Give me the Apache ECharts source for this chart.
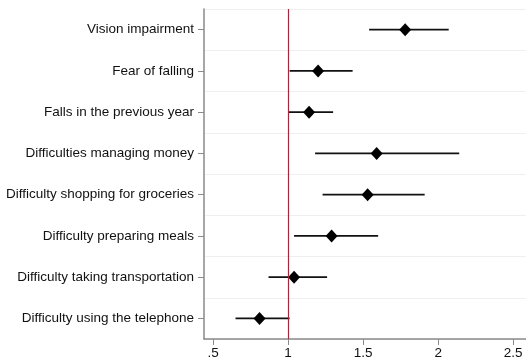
<!DOCTYPE html>
<html><head><meta charset="utf-8">
<script src="https://cdn.jsdelivr.net/npm/echarts@6/dist/echarts.min.js"></script>
<style>html,body{margin:0;padding:0;background:#fff}#c{width:526px;height:364px}</style>
</head><body><div id="c"></div>
<script>
const categories = ["Vision impairment","Fear of falling","Falls in the previous year","Difficulties managing money","Difficulty shopping for groceries","Difficulty preparing meals","Difficulty taking transportation","Difficulty using the telephone"];
const estimates = [1.78, 1.20, 1.14, 1.59, 1.53, 1.29, 1.04, 0.81];
const lower = [1.54, 1.01, 1.00, 1.18, 1.23, 1.04, 0.87, 0.65];
const upper = [2.07, 1.43, 1.30, 2.14, 1.91, 1.60, 1.26, 1.01];
const xTicks = [0.5, 1, 1.5, 2, 2.5];
const refValue = 1;

const chart = echarts.init(document.getElementById('c'));
const ciData = categories.map((c,i)=>[lower[i], upper[i], i]);
chart.setOption({
  animation:false,
  grid:{left:204, right:0, top:9, bottom:25},
  xAxis:{type:'value', min:0.44, max:2.585, interval:0.5,
    axisLine:{show:true, lineStyle:{color:'#8a8a8a', width:1.5}},
    axisTick:{show:true, length:6, lineStyle:{color:'#8a8a8a', width:1}, customValues:xTicks},
    axisLabel:{color:'#111', fontSize:13.5, fontFamily:'Liberation Sans', margin:7,
      customValues:xTicks,
      formatter:v=>{let s=String(v); return s.startsWith('0.')?s.slice(1):s;}},
    splitLine:{show:false}},
  yAxis:{type:'category', data:categories, inverse:true,
    axisLine:{show:true, lineStyle:{color:'#8a8a8a', width:1.5}},
    axisTick:{show:true, alignWithLabel:true, length:6, lineStyle:{color:'#8a8a8a'}},
    axisLabel:{color:'#111', fontSize:13.5, fontFamily:'Liberation Sans', margin:10},
    splitLine:{show:true, lineStyle:{color:'#efefef', width:1}}},
  series:[
    {type:'custom', data:ciData,
      encode:{x:[0,1], y:2},
      renderItem:(params, api)=>{
        const a = api.coord([api.value(0), api.value(2)]);
        const b = api.coord([api.value(1), api.value(2)]);
        return {type:'line', shape:{x1:a[0], y1:a[1], x2:b[0], y2:b[1]}, style:{stroke:'#111', lineWidth:1.6}};
      }, z:2},
    {type:'scatter', data:estimates.map((v,i)=>[v,i]), symbol:'diamond', symbolSize:[12,13],
      itemStyle:{color:'#000', opacity:1}, z:3,
      markLine:{silent:true, symbol:'none', label:{show:false},
        lineStyle:{color:'#a3283f', width:1.2, type:'solid'},
        data:[{xAxis:refValue}]}}
  ]
});
</script></body></html>
